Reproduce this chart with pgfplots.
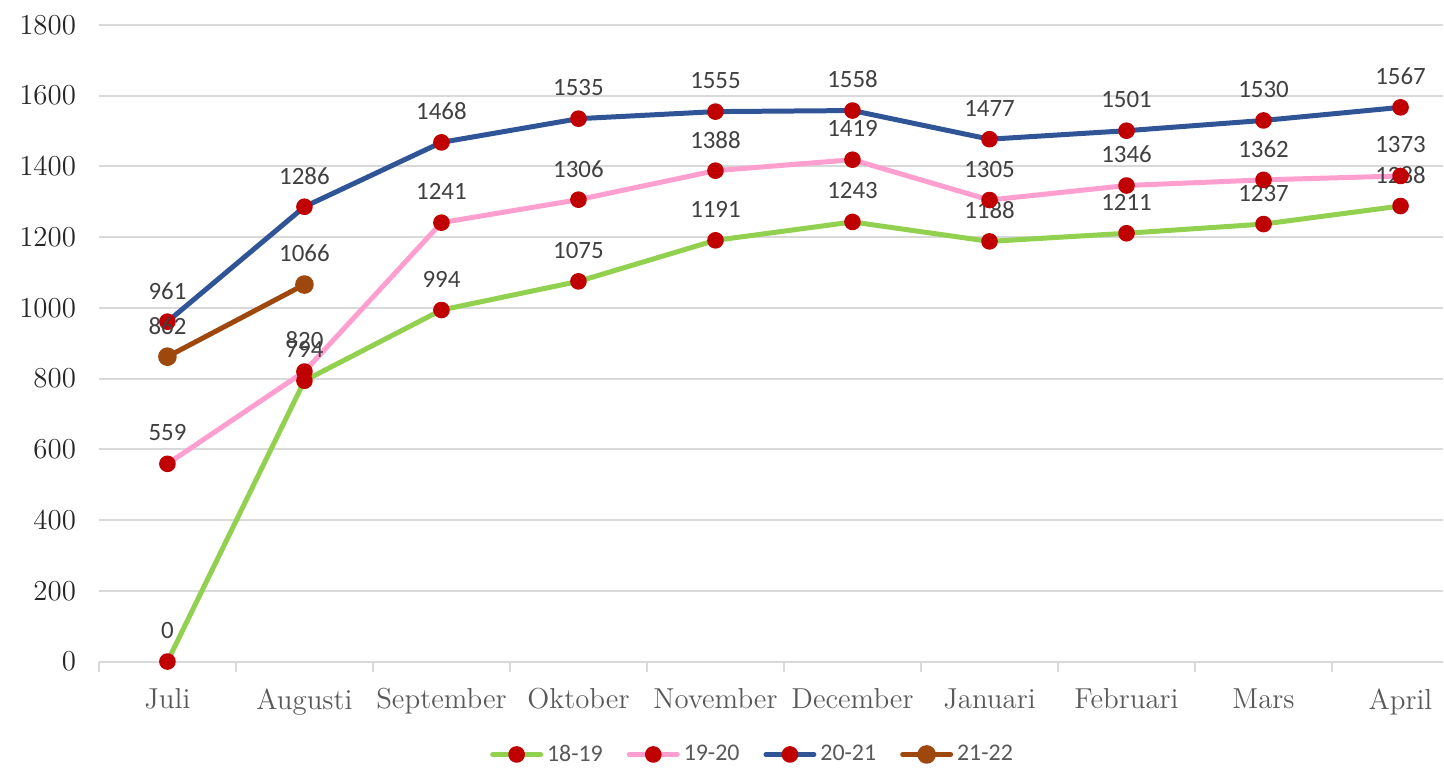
\documentclass[border=0pt]{standalone}
\usepackage{fontspec}
\usepackage{pgfplots}
\pgfplotsset{compat=1.18}
\newfontfamily\carlito{Carlito}
\definecolor{cgreen}{HTML}{92D050}
\definecolor{cpink}{HTML}{FF9FD0}
\definecolor{cblue}{HTML}{2F5597}
\definecolor{cbrown}{HTML}{9E480E}
\definecolor{cred}{HTML}{C00000}
\definecolor{cgrid}{HTML}{D9D9D9}
\begin{document}
\begin{tikzpicture}
\begin{axis}[
 scale only axis, width=672.5bp, height=318.5bp,
 xmin=-0.5, xmax=9.31, ymin=0, ymax=1800,
 xtick={0,...,9},
 xticklabels={Juli,Augusti,September,Oktober,November,December,Januari,Februari,Mars,April},
 minor xtick={-0.5,0.5,...,8.5},
 ytick={0,200,...,1800},
 ymajorgrids, major grid style={cgrid, line width=1bp},
 axis x line*=bottom, axis y line*=left,
 y axis line style={draw=none},
 x axis line style={cgrid, line width=1bp},
 major tick length=0pt, minor tick length=5bp, xtick align=outside,
 minor tick style={cgrid, line width=1bp},
 major tick style={draw=none},
 yticklabel style={font=\fontsize{14.5}{16}\selectfont, color=black!85, xshift=-8bp},
 xticklabel style={font=\fontsize{14.5}{16}\selectfont, color=black!65, yshift=-10bp},
 /pgf/number format/1000 sep={},
 /pgf/number format/assume math mode=true,
 nodes near coords,
 every node near coord/.append style={font=\carlito\fontsize{12.5}{14}\selectfont, color=black!75, anchor=center, yshift=15.5bp},
 legend columns=4,
 legend style={at={(0.487,-0.146)}, anchor=center, draw=none, font=\carlito\fontsize{12}{14}\selectfont, text=black!65, /tikz/every even column/.append style={column sep=10bp}},
 legend image code/.code={\draw[mark repeat=2,mark phase=2,#1] plot coordinates {(0bp,0bp) (12bp,0bp) (24bp,0bp)};},
 clip=false,
]
\addplot[cgreen, line width=2.5bp, line cap=round, line join=round, mark=*, mark size=2.9bp, mark options={fill=cred, draw=cred, solid}]
 coordinates {(0,0) (1,794) (2,994) (3,1075) (4,1191) (5,1243) (6,1188) (7,1211) (8,1237) (9,1288)};
\addlegendentry{18-19}
\addplot[cpink, line width=2.5bp, line cap=round, line join=round, mark=*, mark size=2.9bp, mark options={fill=cred, draw=cred, solid}]
 coordinates {(0,559) (1,820) (2,1241) (3,1306) (4,1388) (5,1419) (6,1305) (7,1346) (8,1362) (9,1373)};
\addlegendentry{19-20}
\addplot[cblue, line width=2.5bp, line cap=round, line join=round, mark=*, mark size=2.9bp, mark options={fill=cred, draw=cred, solid}]
 coordinates {(0,961) (1,1286) (2,1468) (3,1535) (4,1555) (5,1558) (6,1477) (7,1501) (8,1530) (9,1567)};
\addlegendentry{20-21}
\addplot[cbrown, line width=2.5bp, line cap=round, line join=round, mark=*, mark size=3.4bp, mark options={fill=cbrown, draw=cbrown, solid}]
 coordinates {(0,862) (1,1066)};
\addlegendentry{21-22}
\end{axis}
\path[use as bounding box] ([xshift=-49.5bp,yshift=-53bp]current axis.south west) rectangle ([yshift=12.5bp]current axis.north east);
\end{tikzpicture}
\end{document}
